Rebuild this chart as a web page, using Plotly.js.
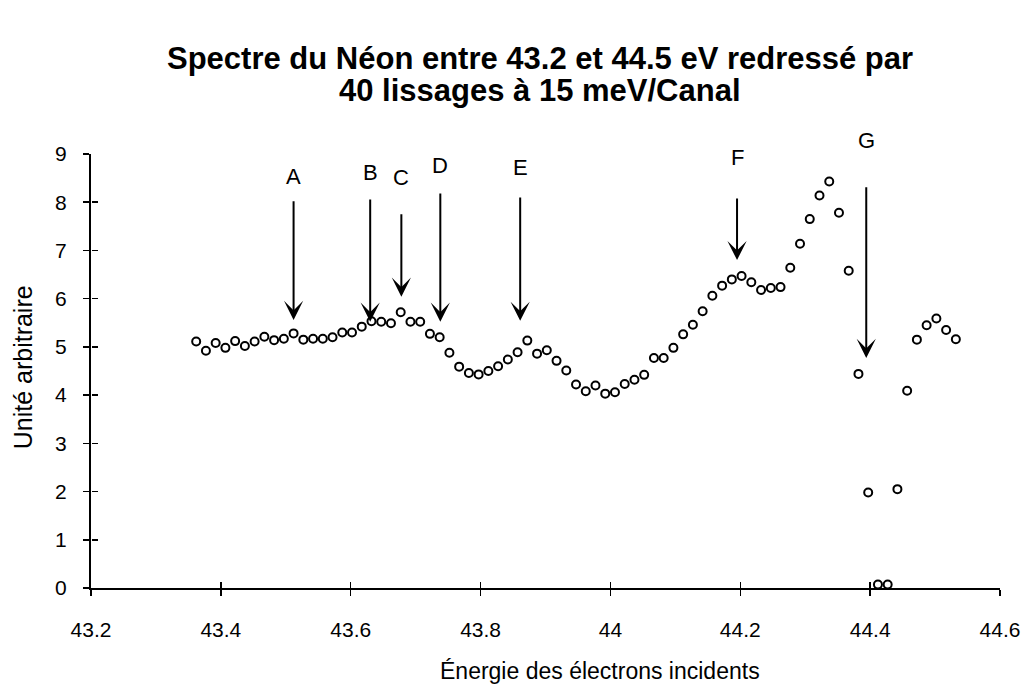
<!DOCTYPE html>
<html>
<head>
<meta charset="utf-8">
<script src="https://cdn.plot.ly/plotly-3.0.1.min.js"></script>
<style>html,body{margin:0;padding:0;background:#fff;}#chart{width:1026px;height:687px;}</style>
</head>
<body>
<div id="chart"></div>
<script>
// Energy (eV) of each channel
const energy = [
  43.362, 43.377, 43.392, 43.407, 43.422, 43.437, 43.452, 43.467, 43.482, 43.497,
  43.512, 43.527, 43.542, 43.557, 43.572, 43.587, 43.602, 43.617, 43.632, 43.647,
  43.662, 43.677, 43.692, 43.707, 43.722, 43.737, 43.752, 43.767, 43.782, 43.797,
  43.812, 43.827, 43.842, 43.857, 43.872, 43.887, 43.902, 43.917, 43.932, 43.947,
  43.962, 43.977, 43.992, 44.007, 44.022, 44.037, 44.052, 44.067, 44.082, 44.097,
  44.112, 44.127, 44.142, 44.157, 44.172, 44.187, 44.202, 44.217, 44.232, 44.247,
  44.262, 44.277, 44.292, 44.307, 44.322, 44.337, 44.352, 44.367, 44.382, 44.397,
  44.412, 44.427, 44.442, 44.457, 44.472, 44.487, 44.502, 44.517, 44.532
];
// Intensity (arbitrary unit)
const intensity = [
  5.11, 4.92, 5.08, 4.98, 5.12, 5.02, 5.11, 5.21, 5.14, 5.17,
  5.28, 5.15, 5.17, 5.17, 5.20, 5.30, 5.30, 5.42, 5.53, 5.52,
  5.49, 5.72, 5.52, 5.52, 5.27, 5.20, 4.88, 4.59, 4.46, 4.43,
  4.50, 4.60, 4.74, 4.89, 5.13, 4.86, 4.93, 4.71, 4.51, 4.22,
  4.08, 4.20, 4.03, 4.06, 4.23, 4.32, 4.42, 4.77, 4.77, 4.98,
  5.26, 5.46, 5.74, 6.06, 6.27, 6.40, 6.47, 6.34, 6.18, 6.22,
  6.24, 6.64, 7.14, 7.65, 8.14, 8.43, 7.78, 6.58, 4.44, 1.98,
  0.07, 0.07, 2.05, 4.09, 5.15, 5.45, 5.59, 5.35, 5.16
];
// Marked features
const peakLabels = ["A", "B", "C", "D", "E", "F", "G"];
const peakEnergy = [43.512, 43.630, 43.678, 43.738, 43.861, 44.195, 44.394];
const xTicks = [43.2, 43.4, 43.6, 43.8, 44, 44.2, 44.4, 44.6];
const xTickText = ["43.2", "43.4", "43.6", "43.8", "44", "44.2", "44.4", "44.6"];
const yTicks = [0, 1, 2, 3, 4, 5, 6, 7, 8, 9];
const titleLines = ["Spectre du Néon entre 43.2 et 44.5 eV redressé par", "40 lissages à 15 meV/Canal"];
const xTitle = "Énergie des électrons incidents";
const yTitle = "Unité arbitraire";

// layout-only geometry for the arrows (tail / tip / label heights, axis units)
const arrowTail = [8.05, 8.09, 7.78, 8.21, 8.13, 8.11, 8.34];
const arrowTip  = [5.56, 5.52, 6.04, 5.52, 5.54, 6.80, 4.77];
const labelY    = [8.54, 8.61, 8.52, 8.77, 8.71, 8.92, 9.29];

const font = "Liberation Sans, Arial, sans-serif";
const black = '#000';
const annotations = [];
peakLabels.forEach((lab, i) => {
  annotations.push({
    x: peakEnergy[i], y: arrowTip[i], xref: 'x', yref: 'y',
    ax: peakEnergy[i], ay: arrowTail[i], axref: 'x', ayref: 'y',
    text: '', showarrow: true, arrowhead: 3, arrowsize: 1.6, arrowwidth: 2,
    arrowcolor: black, standoff: 0, startstandoff: 0
  });
  annotations.push({
    x: peakEnergy[i], y: labelY[i] / 9, xref: 'x', yref: 'paper',
    text: lab, showarrow: false, font: {family: font, size: 22, color: black},
    xanchor: 'center', yanchor: 'middle'
  });
});
// title lines
annotations.push({
  x: 0.494, y: 1.221, xref: 'paper', yref: 'paper', showarrow: false,
  text: '<b>' + titleLines[0] + '</b>', font: {family: font, size: 31, color: black},
  xanchor: 'center', yanchor: 'middle'
});
annotations.push({
  x: 0.494, y: 1.147, xref: 'paper', yref: 'paper', showarrow: false,
  text: '<b>' + titleLines[1] + '</b>', font: {family: font, size: 31, color: black},
  xanchor: 'center', yanchor: 'middle'
});
// axis titles
annotations.push({
  x: 0.560, y: -0.192, xref: 'paper', yref: 'paper', showarrow: false,
  text: xTitle, font: {family: font, size: 23, color: black},
  xanchor: 'center', yanchor: 'middle'
});
annotations.push({
  x: -0.0753, y: 0.5075, xref: 'paper', yref: 'paper', showarrow: false,
  text: yTitle, textangle: -90, font: {family: font, size: 25, color: black},
  xanchor: 'center', yanchor: 'middle'
});

const trace = {
  x: energy, y: intensity, type: 'scatter', mode: 'markers',
  marker: {symbol: 'circle-open', size: 8, color: black, line: {width: 2, color: black}},
  cliponaxis: false, hoverinfo: 'x+y'
};
// empty trace only to host the overlay axes carrying the inner half of the ticks
const tickHost = {x: [], y: [], type: 'scatter', mode: 'markers', xaxis: 'x2', yaxis: 'y2', hoverinfo: 'skip'};

const axCommon = {
  showgrid: false, zeroline: false, tickcolor: black, tickwidth: 1.5, ticklen: 6, fixedrange: true
};

const layout = {
  width: 1026, height: 687,
  margin: {l: 90.5, r: 26, t: 154, b: 98.5},
  paper_bgcolor: '#fff', plot_bgcolor: 'rgba(0,0,0,0)',
  showlegend: false,
  font: {family: font, color: black, size: 20},
  xaxis: Object.assign({}, axCommon, {
    range: [43.2, 44.6], tickvals: xTicks, ticktext: xTickText,
    showline: true, linecolor: black, linewidth: 2,
    ticks: 'outside', ticklabelstandoff: 16,
    tickfont: {family: font, size: 21, color: black}
  }),
  yaxis: Object.assign({}, axCommon, {
    range: [0, 9], tickvals: yTicks,
    showline: true, linecolor: black, linewidth: 2,
    ticks: 'outside', ticklabelstandoff: 12,
    tickfont: {family: font, size: 21, color: black}
  }),
  xaxis2: Object.assign({}, axCommon, {
    range: [43.2, 44.6], tickvals: xTicks, overlaying: 'x', anchor: 'free', position: 0, side: 'bottom',
    ticks: 'inside', showticklabels: false, showline: false
  }),
  yaxis2: Object.assign({}, axCommon, {
    range: [0, 9], tickvals: yTicks, overlaying: 'y', anchor: 'free', position: 0, side: 'left',
    ticks: 'inside', showticklabels: false, showline: false
  }),
  annotations: annotations
};

Plotly.newPlot('chart', [trace, tickHost], layout, {displayModeBar: false, staticPlot: true});
</script>
</body>
</html>
